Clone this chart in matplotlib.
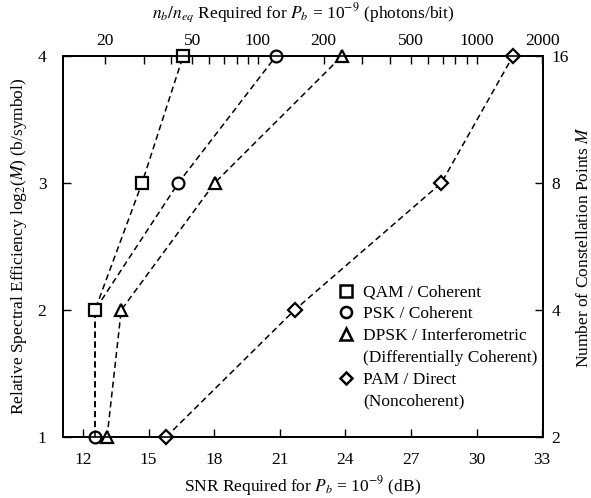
import numpy as np
import matplotlib
matplotlib.use('Agg')
import matplotlib.pyplot as plt
from matplotlib.lines import Line2D
from matplotlib.ticker import NullFormatter

plt.rcParams['font.family'] = ['Liberation Serif', 'DejaVu Serif']
plt.rcParams['mathtext.fontset'] = 'stix'
plt.rcParams['font.size'] = 12.5

# bits per symbol (log2 M)
bits = [1, 2, 3, 4]
# SNR (dB) needed for Pb = 1e-9
snr_qam = [12.55, 12.55, 14.7, 16.58]
snr_psk = [12.55, 12.55, 16.36, 20.83]
snr_dpsk = [13.1, 13.75, 18.02, 23.85]
snr_pam = [15.8, 21.68, 28.39, 31.67]

snr_ticks = [12, 15, 18, 21, 24, 27, 30, 33]
photon_ticks = [20, 50, 100, 200, 500, 1000, 2000]
photon_minor = [30, 40, 60, 70, 80, 90, 300, 400, 600, 700, 800, 900]
m_labels = ['2', '4', '8', '16']

xmin, xmax = 11.085, 33.04

fig = plt.figure(figsize=(5.91, 4.98), dpi=100)
fig.patch.set_facecolor('white')
ax = fig.add_axes([63/591, 61/498, 480/591, 381/498])

ax_top = ax.twiny()
ax_right = ax.twinx()
ax.set_zorder(3)
ax.patch.set_visible(False)

line_kw = dict(color='black', ls=(0, (4, 2.5)), lw=1.1, mew=1.6,
               mfc='white', mec='black', clip_on=False)
ax.plot(snr_psk, bits, marker='o', ms=8.5, markevery=[0, 2, 3], **line_kw)
ax.plot(snr_qam, bits, marker='s', ms=8.5, markevery=[1, 2, 3], **line_kw)
ax.plot(snr_dpsk, bits, marker='^', ms=8.5, **line_kw)
ax.plot(snr_pam, bits, marker='D', ms=7, **line_kw)

ax.set_xlim(xmin, xmax)
ax.set_ylim(1, 4)
ax.set_xticks(snr_ticks)
ax.set_yticks(bits)
ax.tick_params(axis='x', direction='in', length=6, width=1, pad=11)
ax.tick_params(axis='y', direction='in', length=6, width=1, pad=12)
ax.set_xlabel('SNR Required for $P_b$ = 10$^{-9}$ (dB)', labelpad=4)
ax.set_ylabel('Relative Spectral Efficiency log$_2$($M$) (b/symbol)', labelpad=6)

ax_top.set_xscale('log')
ax_top.set_xlim(10 ** (xmin / 10), 10 ** (xmax / 10))
ax_top.set_xticks(photon_ticks)
ax_top.set_xticklabels([str(t) for t in photon_ticks])
ax_top.set_xticks(photon_minor, minor=True)
ax_top.xaxis.set_minor_formatter(NullFormatter())
ax_top.tick_params(which='both', direction='in', length=6, width=1, pad=5)
ax_top.set_xlabel('$n_b/n_{eq}$ Required for $P_b$ = 10$^{-9}$ (photons/bit)', labelpad=11)

ax_right.set_ylim(1, 4)
ax_right.set_yticks(bits)
ax_right.set_yticklabels(m_labels)
ax_right.tick_params(direction='in', length=6, width=1, pad=6)
ax_right.set_ylabel('Number of Constellation Points $M$', labelpad=5)

for a in (ax, ax_top, ax_right):
    for s in a.spines.values():
        s.set_linewidth(1.2)

mk = dict(color='black', ls='none', ms=8, mew=1.8, mfc='white')
handles = [Line2D([], [], marker='s', **mk),
           Line2D([], [], marker='o', **mk),
           Line2D([], [], marker='^', **mk),
           Line2D([], [], ls='none'),
           Line2D([], [], marker='D', color='black', ls='none', ms=6.5, mew=1.8, mfc='white'),
           Line2D([], [], ls='none')]
labels = ['QAM / Coherent', 'PSK / Coherent', 'DPSK / Interferometric',
          '(Differentially Coherent)', 'PAM / Direct', '(Noncoherent)']
ax.legend(handles, labels, loc='upper left', bbox_to_anchor=(0.575, 0.40),
          frameon=False, handlelength=0.8, handletextpad=0.6,
          labelspacing=0.32, borderaxespad=0, borderpad=0)

fig.savefig('out.png', dpi=100, facecolor='white')
